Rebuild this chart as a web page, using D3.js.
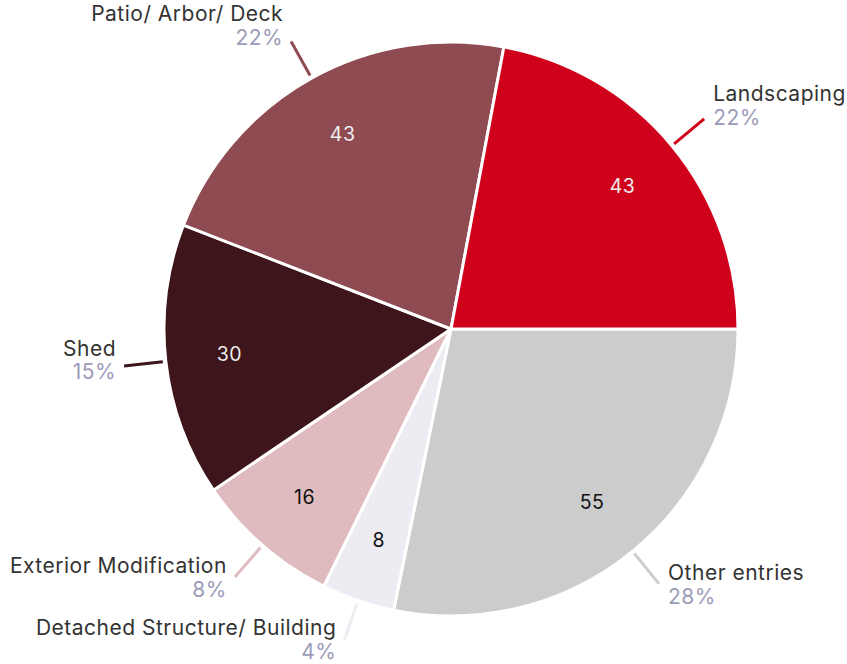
<!DOCTYPE html>
<html>
<head>
<meta charset="utf-8">
<script src="https://cdn.jsdelivr.net/npm/d3@7"></script>
<style>
  html, body { margin: 0; padding: 0; background: #fff; }
  svg { display: block; }
  text { font-family: "Inter", "Lato", sans-serif; }
</style>
</head>
<body>
<svg id="chart" width="847" height="664"></svg>
<script>
const categories = ["Other entries", "Detached Structure/ Building", "Exterior Modification", "Shed", "Patio/ Arbor/ Deck", "Landscaping"];
const values = [55, 8, 16, 30, 43, 43];
const percentLabels = ["28%", "4%", "8%", "15%", "22%", "22%"];
const colors = ["#cccccc", "#ececf2", "#dfbbbf", "#3e151b", "#8f4b52", "#d0021b"];
const valueTextColors = ["#111", "#111", "#111", "#eeeeee", "#eeeeee", "#eeeeee"];

const svg = d3.select("#chart");
const cx = 451, cy = 329, r = 287;
const g = svg.append("g").attr("transform", `translate(${cx},${cy})`);

const data = categories.map((c, i) => ({ name: c, value: values[i], pct: percentLabels[i], color: colors[i], tc: valueTextColors[i] }));

const pie = d3.pie().value(d => d.value).sort(null)
  .startAngle(Math.PI / 2).endAngle(Math.PI / 2 + 2 * Math.PI);
const arcs = pie(data);
const arc = d3.arc().innerRadius(0).outerRadius(r);

g.selectAll("path.slice").data(arcs).join("path")
  .attr("class", "slice")
  .attr("d", arc)
  .attr("fill", d => d.data.color)
  .attr("stroke", "#fff")
  .attr("stroke-width", 3)
  .attr("stroke-linejoin", "round");

const labelArc = d3.arc().innerRadius(223).outerRadius(223);
g.selectAll("text.val").data(arcs).join("text")
  .attr("class", "val")
  .attr("transform", d => `translate(${labelArc.centroid(d)})`)
  .attr("text-anchor", "middle")
  .attr("dy", "0.35em")
  .attr("font-size", 19.5)
  .attr("letter-spacing", 0.5)
  .attr("fill", d => d.data.tc)
  .text(d => d.data.value);

function pt(a, rad) { return [Math.sin(a) * rad, -Math.cos(a) * rad]; }

arcs.forEach(d => {
  const a = (d.startAngle + d.endAngle) / 2;
  const p0 = pt(a, r + 3);
  const p1 = pt(a, r + 42);
  g.append("line")
    .attr("x1", p0[0]).attr("y1", p0[1])
    .attr("x2", p1[0]).attr("y2", p1[1])
    .attr("stroke", d.data.color)
    .attr("stroke-width", 3);
  const right = Math.sin(a) > 0;
  const x = p1[0] + (right ? 9 : -8);
  const c = -10 * Math.cos(a);
  const anchor = right ? "start" : "end";
  g.append("text")
    .attr("x", x).attr("y", Math.min(p1[1] + c - 11.5, 635 - cy))
    .attr("text-anchor", anchor)
    .attr("font-size", 21)
    .attr("letter-spacing", 0.5)
    .attr("fill", "#333")
    .text(d.data.name);
  g.append("text")
    .attr("x", x).attr("y", Math.min(p1[1] + c + 12, 659 - cy))
    .attr("text-anchor", anchor)
    .attr("font-size", 21)
    .attr("letter-spacing", 0.5)
    .attr("fill", "#9c9cb8")
    .text(d.data.pct);
});
</script>
</body>
</html>
